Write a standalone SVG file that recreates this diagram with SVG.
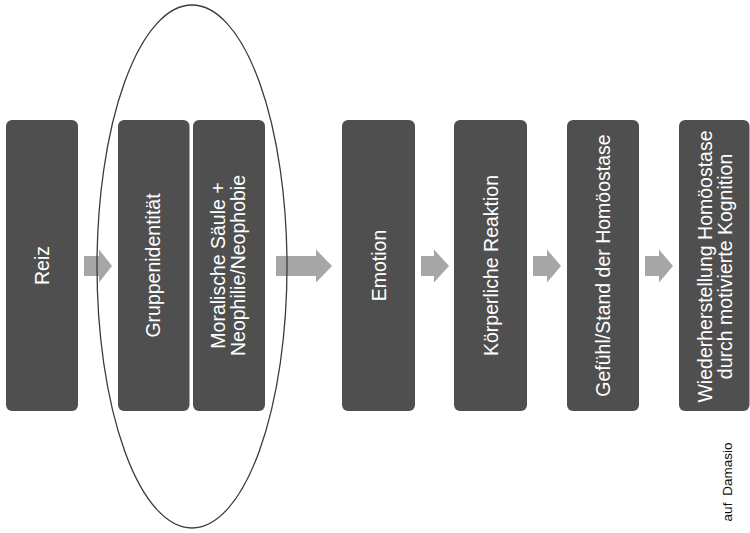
<svg xmlns="http://www.w3.org/2000/svg" width="750" height="533" viewBox="0 0 750 533">
<style>
.box{fill:#4f4f4f;}
.arr{fill:#a6a6a6;}
.lbl{fill:#ffffff;font-family:"Liberation Sans",Arial,sans-serif;font-size:19.5px;text-anchor:middle;}
.note{fill:#111111;font-family:"Liberation Sans",Arial,sans-serif;font-size:13.5px;text-anchor:middle;word-spacing:3px;}
</style>
<rect width="750" height="533" fill="#ffffff"/>
<g id="node-reiz">
<rect class="box" x="6" y="120" width="72" height="291" rx="6"/>
<text class="lbl" transform="translate(42,265.5) rotate(-90)" y="7">Reiz</text>
</g>
<g id="node-gruppe">
<rect class="box" x="118" y="120" width="71.5" height="291" rx="6"/>
<text class="lbl" transform="translate(153.5,265.5) rotate(-90)" y="6.5">Gruppenidentität</text>
</g>
<g id="node-moral">
<rect class="box" x="193" y="120" width="72" height="291" rx="6"/>
<text class="lbl" transform="translate(229,265.5) rotate(-90)"><tspan x="0" y="-4">Moralische Säule +</tspan><tspan x="0" y="16">Neophilie/Neophobie</tspan></text>
</g>
<g id="node-emotion">
<rect class="box" x="342" y="120" width="73" height="291" rx="6"/>
<text class="lbl" transform="translate(378.5,265.5) rotate(-90)" y="7">Emotion</text>
</g>
<g id="node-koerper">
<rect class="box" x="454" y="120" width="73" height="291" rx="6"/>
<text class="lbl" transform="translate(490.5,265.5) rotate(-90)" y="7">Körperliche Reaktion</text>
</g>
<g id="node-gefuehl">
<rect class="box" x="567" y="120" width="72" height="291" rx="6"/>
<text class="lbl" transform="translate(603,265.5) rotate(-90)" y="7">Gefühl/Stand der Homöostase</text>
</g>
<g id="node-wieder">
<rect class="box" x="679" y="120" width="70.5" height="291" rx="6"/>
<text class="lbl" transform="translate(714,266.5) rotate(-90)"><tspan x="0" y="-2">Wiederherstellung Homöostase</tspan><tspan x="0" y="18">durch motivierte Kognition</tspan></text>
</g>
<g id="connectors">
<polygon class="arr" points="84,256 99,256 99,249.5 112,266 99,282.5 99,276 84,276"/>
<polygon class="arr" points="276,256 316,256 316,249.5 332,266 316,282.5 316,276 276,276"/>
<polygon class="arr" points="421,256 434,256 434,249.5 449,266 434,282.5 434,276 421,276"/>
<polygon class="arr" points="533,256 547,256 547,249.5 561,266 547,282.5 547,276 533,276"/>
<polygon class="arr" points="645,256 659,256 659,249.5 673,266 659,282.5 659,276 645,276"/>
</g>
<g id="group-ellipse">
<ellipse cx="192" cy="266.5" rx="95" ry="261.5" fill="none" stroke="#3a3a3a" stroke-width="1.3"/>
</g>
<text class="note" transform="translate(732,482) rotate(-90)">auf Damasio</text>
</svg>
